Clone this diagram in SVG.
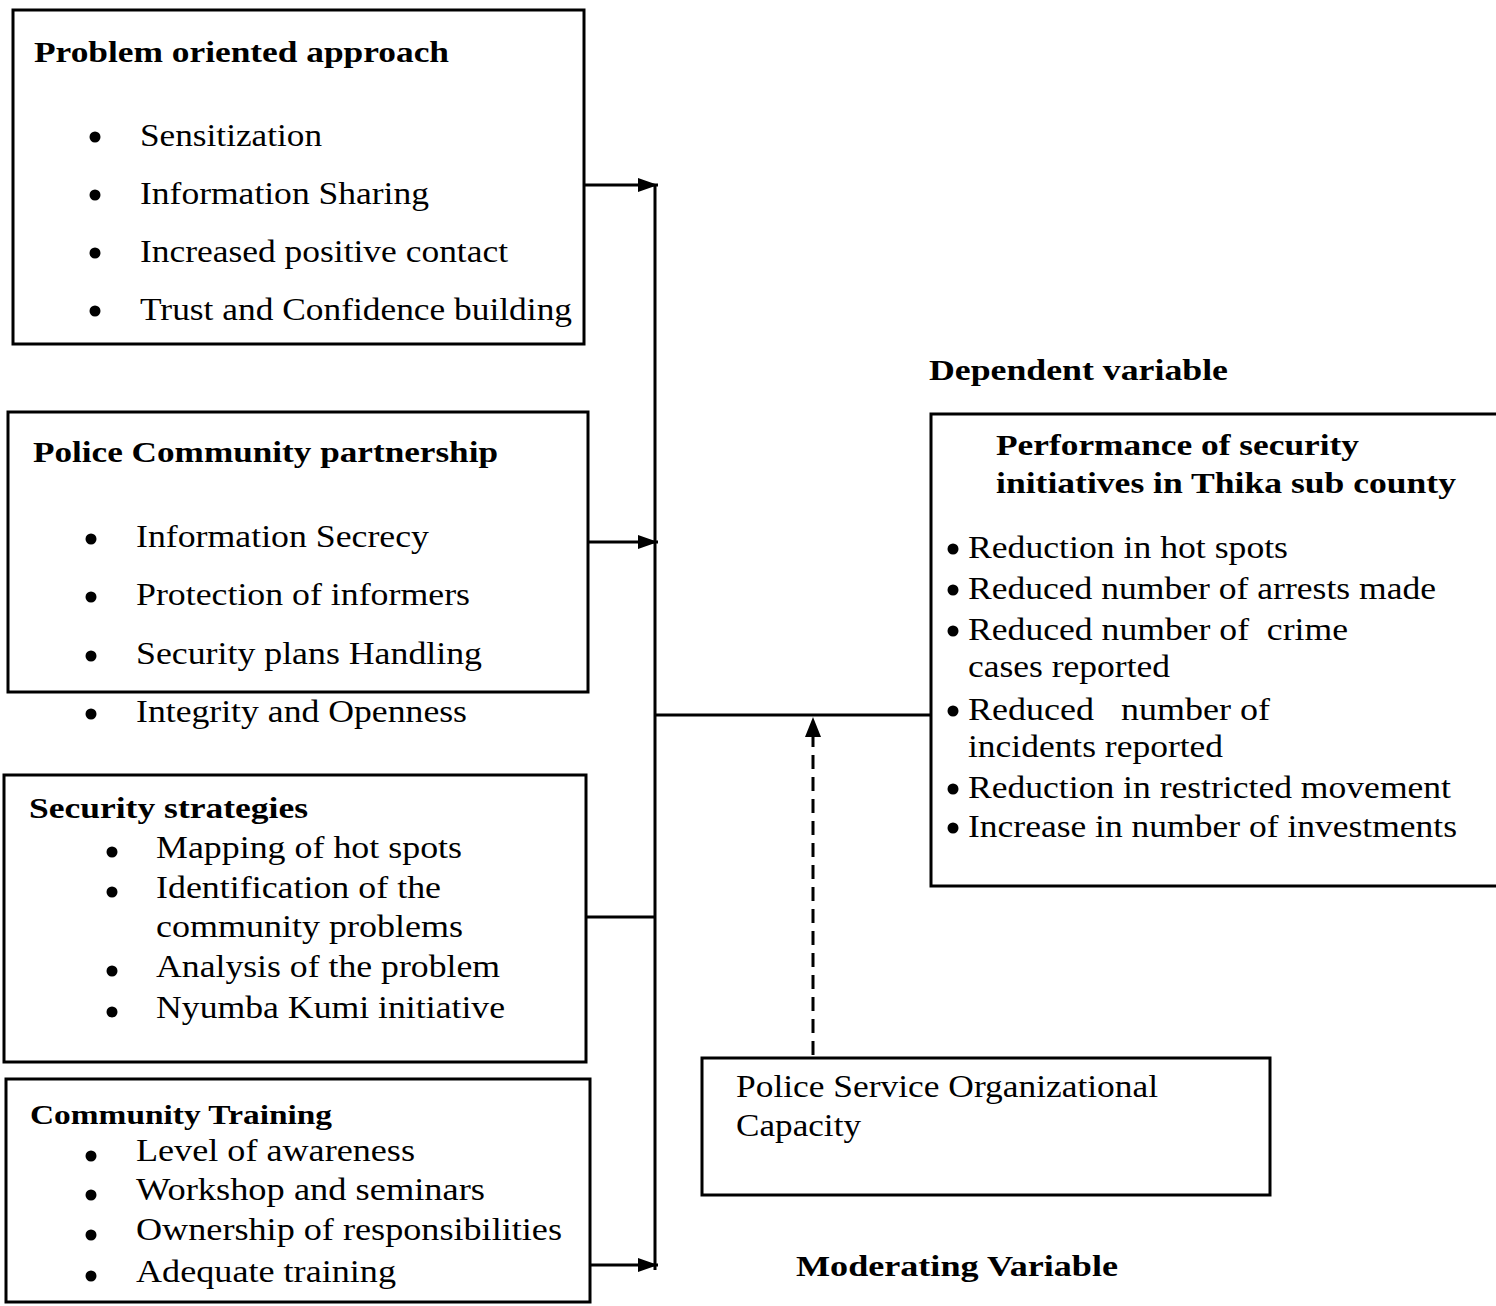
<svg xmlns="http://www.w3.org/2000/svg" width="1496" height="1306" viewBox="0 0 1496 1306">
<defs>
<style>
.box{fill:#fff;stroke:#000;stroke-width:3}
.h{font-family:"Liberation Serif",serif;font-weight:bold;font-size:30px;fill:#000}
.t{font-family:"Liberation Serif",serif;font-size:32px;fill:#000}
.b{fill:#000}
.ln{stroke:#000;stroke-width:3;fill:none}
.dash{stroke:#000;stroke-width:3;fill:none;stroke-dasharray:14,8}
</style>
<marker id="ah" viewBox="0 0 20 14" refX="20" refY="7" markerWidth="20" markerHeight="14" markerUnits="userSpaceOnUse" orient="auto">
<path d="M0,0 L20,7 L0,14 Z" fill="#000"/>
</marker>
</defs>
<rect width="1496" height="1306" fill="#fff"/>

<g id="connectors">
<line class="ln" x1="655" y1="185" x2="655" y2="1270"/>
<line class="ln" x1="584" y1="185" x2="658" y2="185" marker-end="url(#ah)"/>
<line class="ln" x1="588" y1="542" x2="658" y2="542" marker-end="url(#ah)"/>
<line class="ln" x1="586" y1="917" x2="655" y2="917"/>
<line class="ln" x1="583" y1="1265" x2="658" y2="1265" marker-end="url(#ah)"/>
<line class="ln" x1="655" y1="715" x2="931" y2="715"/>
<line class="dash" x1="813" y1="1055" x2="813" y2="730"/>
<path d="M805,737 L813,717 L821,737 Z" fill="#000"/>
</g>

<g id="node-problem">
<rect class="box" x="13" y="10" width="571" height="334"/>
<text class="h" x="34" y="62" textLength="415" lengthAdjust="spacingAndGlyphs">Problem oriented approach</text>
<circle class="b" cx="95" cy="137" r="5.5"/>
<text class="t" x="140" y="146" textLength="182" lengthAdjust="spacingAndGlyphs">Sensitization</text>
<circle class="b" cx="95" cy="195" r="5.5"/>
<text class="t" x="140" y="204" textLength="289" lengthAdjust="spacingAndGlyphs">Information Sharing</text>
<circle class="b" cx="95" cy="253" r="5.5"/>
<text class="t" x="140" y="262" textLength="368" lengthAdjust="spacingAndGlyphs">Increased positive contact</text>
<circle class="b" cx="95" cy="311" r="5.5"/>
<text class="t" x="140" y="320" textLength="432" lengthAdjust="spacingAndGlyphs">Trust and Confidence building</text>
</g>

<g id="node-partnership">
<rect class="box" x="8" y="412" width="580" height="280"/>
<text class="h" x="33" y="462" textLength="465" lengthAdjust="spacingAndGlyphs">Police Community partnership</text>
<circle class="b" cx="91" cy="539" r="5.5"/>
<text class="t" x="136" y="547" textLength="293" lengthAdjust="spacingAndGlyphs">Information Secrecy</text>
<circle class="b" cx="91" cy="597" r="5.5"/>
<text class="t" x="136" y="605" textLength="334" lengthAdjust="spacingAndGlyphs">Protection of informers</text>
<circle class="b" cx="91" cy="656" r="5.5"/>
<text class="t" x="136" y="664" textLength="346" lengthAdjust="spacingAndGlyphs">Security plans Handling</text>
<circle class="b" cx="91" cy="714" r="5.5"/>
<text class="t" x="136" y="722" textLength="331" lengthAdjust="spacingAndGlyphs">Integrity and Openness</text>
</g>

<g id="node-strategies">
<rect class="box" x="4" y="775" width="582" height="287"/>
<text class="h" x="29" y="818" textLength="279" lengthAdjust="spacingAndGlyphs">Security strategies</text>
<circle class="b" cx="112" cy="852" r="5.5"/>
<text class="t" x="156" y="858" textLength="306" lengthAdjust="spacingAndGlyphs">Mapping of hot spots</text>
<circle class="b" cx="112" cy="892" r="5.5"/>
<text class="t" x="156" y="898" textLength="285" lengthAdjust="spacingAndGlyphs">Identification of the</text>
<text class="t" x="156" y="937" textLength="307" lengthAdjust="spacingAndGlyphs">community problems</text>
<circle class="b" cx="112" cy="971" r="5.5"/>
<text class="t" x="156" y="977" textLength="344" lengthAdjust="spacingAndGlyphs">Analysis of the problem</text>
<circle class="b" cx="112" cy="1012" r="5.5"/>
<text class="t" x="156" y="1018" textLength="349" lengthAdjust="spacingAndGlyphs">Nyumba Kumi initiative</text>
</g>

<g id="node-training">
<rect class="box" x="6" y="1079" width="584" height="223"/>
<text class="h" x="30" y="1124" textLength="302" lengthAdjust="spacingAndGlyphs" style="font-size:27px">Community Training</text>
<circle class="b" cx="91" cy="1156" r="5.5"/>
<text class="t" x="136" y="1161" textLength="279" lengthAdjust="spacingAndGlyphs">Level of awareness</text>
<circle class="b" cx="91" cy="1195" r="5.5"/>
<text class="t" x="136" y="1200" textLength="349" lengthAdjust="spacingAndGlyphs">Workshop and seminars</text>
<circle class="b" cx="91" cy="1235" r="5.5"/>
<text class="t" x="136" y="1240" textLength="426" lengthAdjust="spacingAndGlyphs">Ownership of responsibilities</text>
<circle class="b" cx="91" cy="1276" r="5.5"/>
<text class="t" x="136" y="1282" textLength="260" lengthAdjust="spacingAndGlyphs">Adequate training</text>
</g>

<g id="node-dependent">
<text class="h" x="929" y="380" textLength="299" lengthAdjust="spacingAndGlyphs">Dependent variable</text>
<rect class="box" x="931" y="414" width="570" height="472"/>
<text class="h" x="996" y="455" textLength="363" lengthAdjust="spacingAndGlyphs">Performance of security</text>
<text class="h" x="996" y="493" textLength="460" lengthAdjust="spacingAndGlyphs">initiatives in Thika sub county</text>
<circle class="b" cx="953" cy="549" r="5.5"/>
<text class="t" x="968" y="558" textLength="320" lengthAdjust="spacingAndGlyphs">Reduction in hot spots</text>
<circle class="b" cx="953" cy="590" r="5.5"/>
<text class="t" x="968" y="599" textLength="468" lengthAdjust="spacingAndGlyphs">Reduced number of arrests made</text>
<circle class="b" cx="953" cy="631" r="5.5"/>
<text class="t" x="968" y="640" textLength="380" lengthAdjust="spacingAndGlyphs" xml:space="preserve">Reduced number of  crime</text>
<text class="t" x="968" y="677" textLength="202" lengthAdjust="spacingAndGlyphs">cases reported</text>
<circle class="b" cx="953" cy="711" r="5.5"/>
<text class="t" x="968" y="720" textLength="302" lengthAdjust="spacingAndGlyphs" xml:space="preserve">Reduced   number of</text>
<text class="t" x="968" y="757" textLength="255" lengthAdjust="spacingAndGlyphs">incidents reported</text>
<circle class="b" cx="953" cy="789" r="5.5"/>
<text class="t" x="968" y="798" textLength="483" lengthAdjust="spacingAndGlyphs">Reduction in restricted movement</text>
<circle class="b" cx="953" cy="828" r="5.5"/>
<text class="t" x="968" y="837" textLength="489" lengthAdjust="spacingAndGlyphs">Increase in number of investments</text>
</g>

<g id="node-moderating">
<rect class="box" x="702" y="1058" width="568" height="137"/>
<text class="t" x="736" y="1097" textLength="422" lengthAdjust="spacingAndGlyphs">Police Service Organizational</text>
<text class="t" x="736" y="1136" textLength="125" lengthAdjust="spacingAndGlyphs">Capacity</text>
<text class="h" x="796" y="1276" textLength="322" lengthAdjust="spacingAndGlyphs">Moderating Variable</text>
</g>
</svg>
